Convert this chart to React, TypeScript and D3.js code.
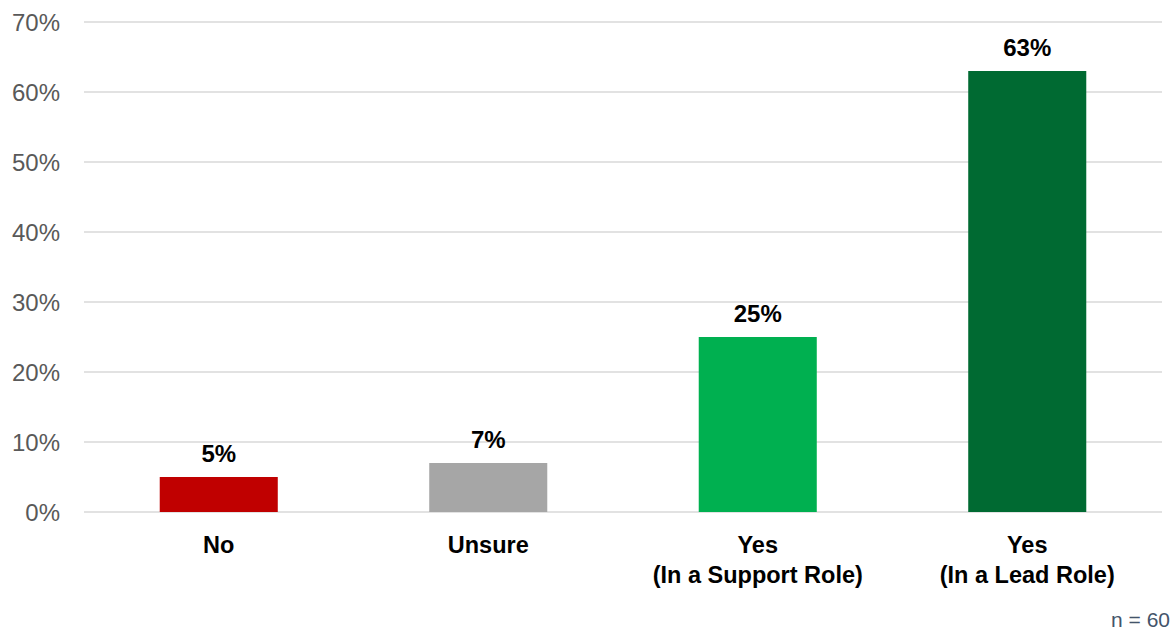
import React from "react";
import * as d3 from "d3";

const categories: string[][] = [["No"], ["Unsure"], ["Yes", "(In a Support Role)"], ["Yes", "(In a Lead Role)"]];
const values: number[] = [5, 7, 25, 63];
const colors: string[] = ["#C00000", "#A6A6A6", "#00B050", "#006A32"];
const yTicks: number[] = [0, 10, 20, 30, 40, 50, 60, 70];
const note = "n = 60";

export default function App() {
  const W = 1173, H = 630;
  const x0 = 84, x1 = 1162, yTop = 22, yBot = 512;
  const keys = categories.map((c) => c.join(" "));
  const x = d3.scaleBand<string>().domain(keys).range([x0, x1]).paddingInner(0.562).paddingOuter(0.281);
  const y = d3.scaleLinear().domain([0, 70]).range([yBot, yTop]);
  const font = "'Liberation Sans', Arial, sans-serif";
  return (
    <svg width={W} height={H} style={{ position: "absolute", left: 0, top: 0, background: "#fff" }}>
      {yTicks.map((t) => (
        <g key={t}>
          <line x1={x0} x2={x1} y1={y(t)} y2={y(t)} stroke="#D9D9D9" strokeWidth={1.5} />
          <text x={60} y={y(t) + 8.5} textAnchor="end" fontFamily={font} fontSize={24} fill="#595959">
            {t}%
          </text>
        </g>
      ))}
      {values.map((v, i) => {
        const k = keys[i];
        const bx = x(k)!;
        const bw = x.bandwidth();
        const cx = bx + bw / 2;
        return (
          <g key={k}>
            <rect x={bx} y={y(v)} width={bw} height={y(0) - y(v)} fill={colors[i]} />
            <text x={cx} y={y(v) - 15} textAnchor="middle" fontFamily={font} fontWeight="bold" fontSize={24} fill="#000">
              {v}%
            </text>
            {categories[i].map((line, j) => (
              <text key={j} x={cx} y={553 + j * 30} textAnchor="middle" fontFamily={font} fontWeight="bold" fontSize={23.5} fill="#000">
                {line}
              </text>
            ))}
          </g>
        );
      })}
      <text x={1170} y={627} textAnchor="end" fontFamily={font} fontSize={21} fill="#44546A">
        {note}
      </text>
    </svg>
  );
}
